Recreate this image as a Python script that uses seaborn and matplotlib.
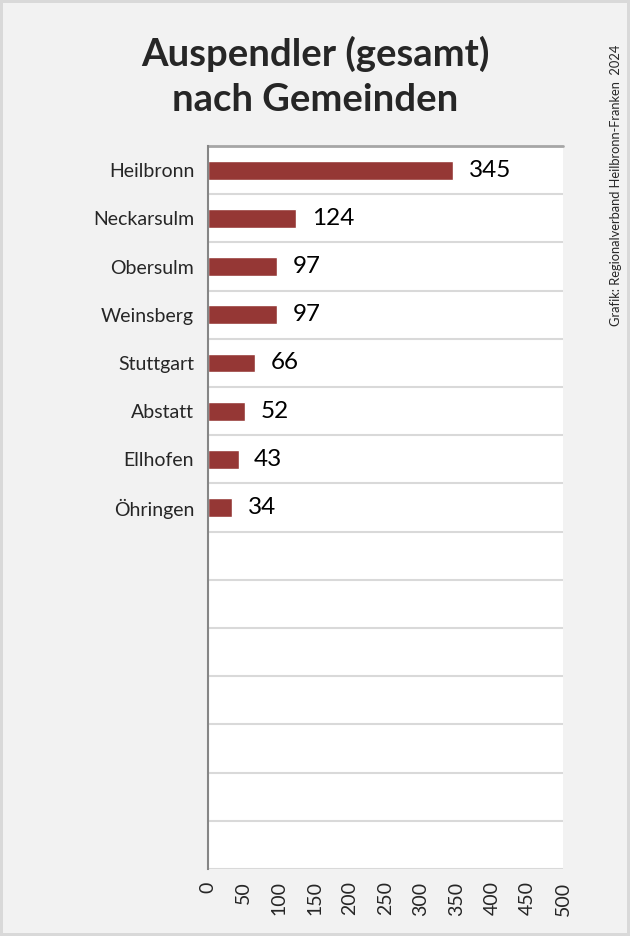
import numpy as np
import pandas as pd
import matplotlib
matplotlib.use("Agg")
import matplotlib.pyplot as plt
import seaborn as sns

# Daten
gemeinden = ["Heilbronn", "Neckarsulm", "Obersulm", "Weinsberg",
             "Stuttgart", "Abstatt", "Ellhofen", "Öhringen"]
auspendler = [345, 124, 97, 97, 66, 52, 43, 34]
n_leer = 7  # leere Kategorien unten
x_ticks = [0, 50, 100, 150, 200, 250, 300, 350, 400, 450, 500]

BAR_COLOR = "#953735"
BG = "#f2f2f2"

sns.set_theme(style="white")
plt.rcParams["font.family"] = ["Lato", "DejaVu Sans"]

labels = gemeinden + [" " * (i + 1) for i in range(n_leer)]
werte = auspendler + [np.nan] * n_leer
df = pd.DataFrame({"gemeinde": labels, "wert": werte})

fig = plt.figure(figsize=(6.3, 9.36), dpi=100, facecolor=BG)
fig.patch.set_edgecolor("#d9d9d9")
fig.patch.set_linewidth(3)
ax = fig.add_axes([0.3302, 0.0716, 0.5635, 0.7724])
ax.set_facecolor("white")

sns.barplot(data=df, x="wert", y="gemeinde", order=labels, color=BAR_COLOR,
            width=0.39, saturation=1, ax=ax)

# Wertebeschriftung
for i, v in enumerate(auspendler):
    ax.text(v + 22, i, str(v), va="center", ha="left", fontsize=17.5, color="black")

ax.set_xlim(0, 500)
ax.set_ylim(len(labels) - 0.5, -0.5)
ax.set_xticks(x_ticks)
ax.set_xticklabels([str(t) for t in x_ticks], rotation=90, fontsize=14)
ax.set_xlabel("")
ax.set_ylabel("")
ax.tick_params(axis="y", which="major", length=0, labelsize=14, pad=10)
ax.tick_params(axis="x", length=0, pad=9)

# Gitterlinien zwischen den Kategorien
grenzen = np.arange(-0.5, len(labels), 1.0)
ax.set_yticks(grenzen, minor=True)
ax.tick_params(axis="y", which="minor", length=6, color="#868686", width=1.2)
ax.grid(axis="y", which="minor", color="#d9d9d9", linewidth=1.5)
ax.grid(axis="x", visible=False)
ax.set_axisbelow(True)

for s in ["top", "right", "bottom"]:
    ax.spines[s].set_visible(False)
ax.spines["left"].set_color("#868686")
ax.spines["left"].set_linewidth(1.5)
ax.axhline(-0.5, color="#a6a6a6", linewidth=2, clip_on=False)

fig.text(0.5, 0.918, "Auspendler (gesamt)\nnach Gemeinden", ha="center", va="center",
         fontsize=27.5, fontweight="bold", linespacing=1.4)
fig.text(0.977, 0.8024, "Grafik: Regionalverband Heilbronn-Franken  2024", rotation=90,
         ha="center", va="center", fontsize=9.3)

fig.savefig("out.png", dpi=100, facecolor=BG, edgecolor="#d9d9d9")
